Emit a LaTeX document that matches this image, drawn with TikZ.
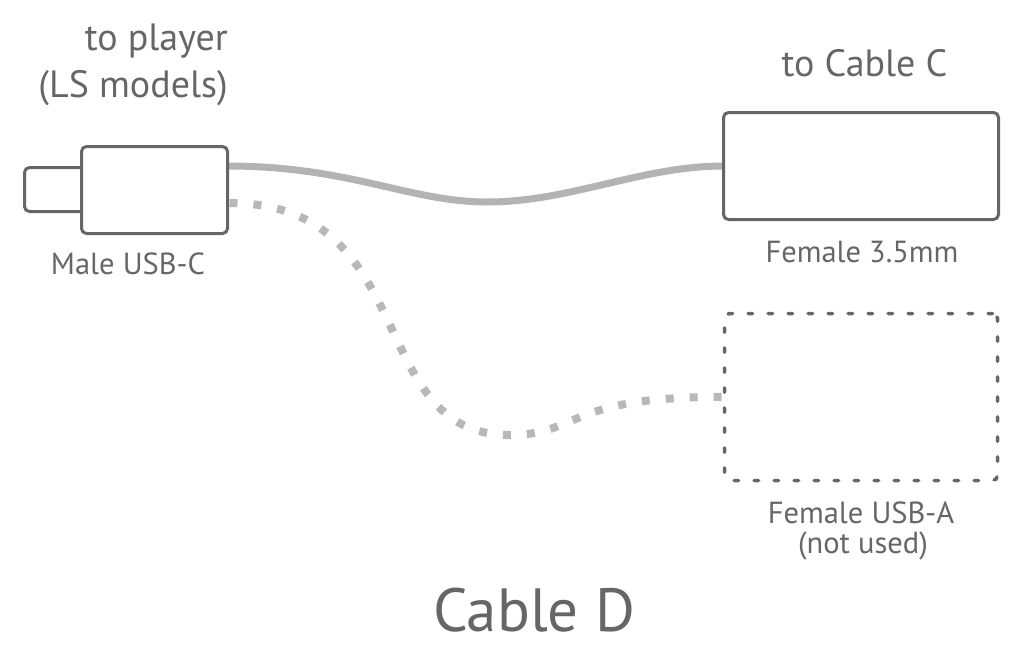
\documentclass[tikz,border=0pt]{standalone}
\usepackage{fontspec}
\setmainfont{PT Sans}
\usetikzlibrary{calc,backgrounds}
\definecolor{ink}{HTML}{666666}
\definecolor{wire}{HTML}{B3B3B3}
\definecolor{dotwire}{HTML}{B8B8B8}
\tikzset{
  plugbox/.style={draw=ink, line width=3pt, rounded corners=5pt, fill=white, inner sep=0pt, outer sep=0pt},
  ghostbox/.style={draw=ink, line width=3.5pt, rounded corners=5pt, inner sep=0pt, outer sep=0pt,
    dash pattern=on 4.5pt off 15.5pt, line cap=round},
  lbl/.style={text=ink, inner sep=0pt, font=\fontsize{30.5}{32}\selectfont},
  big/.style={text=ink, inner sep=0pt, font=\fontsize{38}{40}\selectfont},
  title/.style={text=ink, inner sep=0pt, font=\fontsize{61}{70}\selectfont},
  solidwire/.style={draw=wire, line width=7pt},
  dottedwire/.style={draw=dotwire, line width=8pt, dash pattern=on 8pt off 16pt}
}
\begin{document}
\begin{tikzpicture}[x=1pt,y=-1pt]
\useasboundingbox (0,0) rectangle (1033,659);
% USB-C plug
\node[plugbox, minimum width=66pt, minimum height=44pt] (tip) at (57.5,189.5) {};
\node[plugbox, minimum width=146pt, minimum height=87pt] (usbc) at (154.5,190) {};
% Female 3.5mm
\node[plugbox, minimum width=275pt, minimum height=107pt] (jack) at (861,166) {};
% Female USB-A (not used)
\node[ghostbox, minimum width=273pt, minimum height=167pt] (usba) at (861,397) {};
% wires
\begin{pgfonlayer}{background}
\draw[solidwire] (usbc.east |- jack.west) .. controls +(122,0) and (410,202) .. (487,202)
  .. controls (570,202) and ($(jack.west)+(-82,0)$) .. (jack.west);
\coordinate (dstart) at ($(usbc.east)+(2,13)$);
\draw[dottedwire] (dstart) .. controls (422,203) and (364,435) .. (509,435)
  .. controls (580,435) and (566,396) .. (usba.west);
\end{pgfonlayer}
% labels
\node[big, anchor=base east] (tp) at (228,50) {to player};
\node[big, anchor=base east] (ls) at (228,97) {(LS models)};
\node[lbl, anchor=base] (mu) at (128,274) {Male USB-C};
\node[big, anchor=base] (tc) at (864.5,76) {to Cable C};
\node[lbl, anchor=base] (f35) at (862,262) {Female 3.5mm};
\node[lbl, anchor=base] (fa) at (861,523) {Female USB-A};
\node[lbl, anchor=base] (nu) at (863,553) {(not used)};
\node[title, anchor=base] (cd) at (534,631) {Cable D};
\end{tikzpicture}
\end{document}
